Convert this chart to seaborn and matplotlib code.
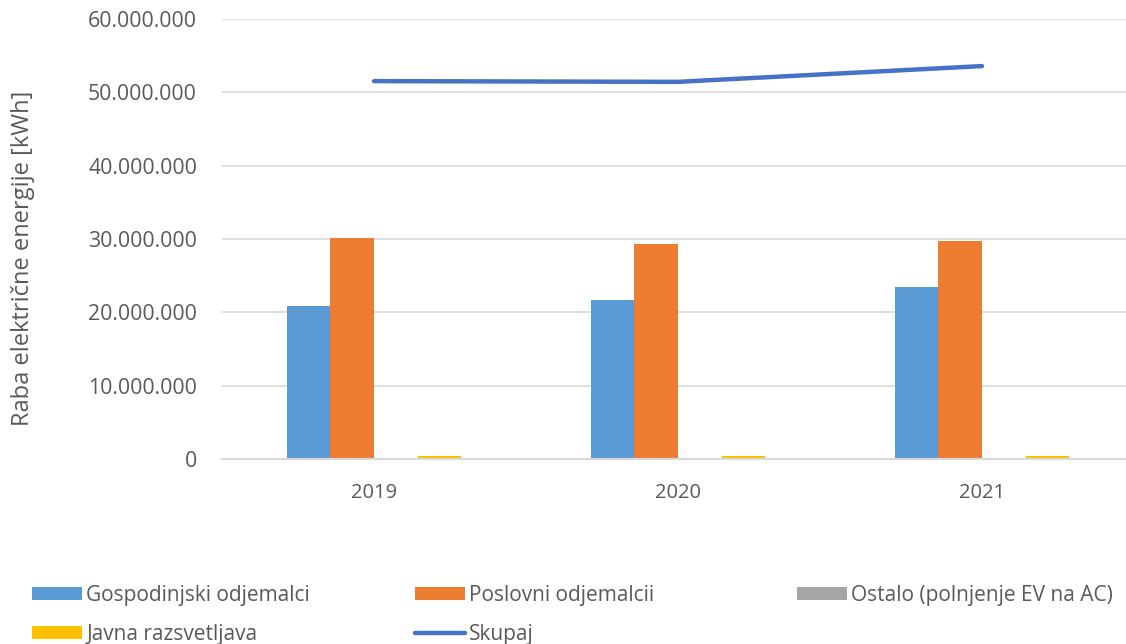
import numpy as np
import pandas as pd
import seaborn as sns
import matplotlib
matplotlib.use("Agg")
import matplotlib.pyplot as plt
from matplotlib.ticker import FuncFormatter, MultipleLocator
from matplotlib.patches import Patch
from matplotlib.lines import Line2D

# Electricity use per consumer group [kWh]
years = ["2019", "2020", "2021"]
gospodinjski = [20_900_000, 21_700_000, 23_400_000]
poslovni = [30_200_000, 29_300_000, 29_750_000]
ostalo = [10_000, 15_000, 30_000]
javna = [420_000, 410_000, 400_000]
skupaj = [51_530_000, 51_430_000, 53_580_000]

series_names = [
    "Gospodinjski odjemalci",
    "Poslovni odjemalcii",
    "Ostalo (polnjenje EV na AC)",
    "Javna razsvetljava",
]
total_name = "Skupaj"
ylabel = "Raba električne energije [kWh]"

colors = ["#5B9BD5", "#ED7D31", "#A5A5A5", "#FFC000"]
line_color = "#4472C4"
text_color = "#595959"
grid_color = "#D9D9D9"

df = pd.DataFrame({
    "Leto": years * 4,
    "Skupina": np.repeat(series_names, len(years)),
    "Vrednost": gospodinjski + poslovni + ostalo + javna,
})

sns.set_theme(style="white")
plt.rcParams["font.family"] = ["Open Sans", "DejaVu Sans"]

W, H = 1126, 644
fig = plt.figure(figsize=(W / 100, H / 100), dpi=100)
ax_left, ax_bottom, ax_top = 222, 459, 19
ax = fig.add_axes([ax_left / W, (H - ax_bottom) / H,
                   (W - ax_left) / W, (ax_bottom - ax_top) / H])

sns.barplot(data=df, x="Leto", y="Vrednost", hue="Skupina",
            hue_order=series_names, palette=colors, width=0.575,
            saturation=1, ax=ax, legend=False, linewidth=0)

sns.lineplot(x=np.arange(len(years)), y=skupaj, ax=ax, color=line_color,
             linewidth=3.2, solid_capstyle="round", legend=False)

ax.set_ylim(0, 60_000_000)
ax.set_xlim(-0.5, 2.5 - 8 / 304)
ax.yaxis.set_major_locator(MultipleLocator(10_000_000))
ax.yaxis.set_major_formatter(FuncFormatter(lambda v, p: f"{int(v):,}".replace(",", ".")))
ax.grid(axis="y", color=grid_color, linewidth=1.2)
ax.set_axisbelow(True)
for s in ["top", "right", "left"]:
    ax.spines[s].set_visible(False)
ax.spines["bottom"].set_color(grid_color)
ax.spines["bottom"].set_linewidth(1.5)

ax.tick_params(axis="both", length=0, colors=text_color)
ax.tick_params(axis="y", pad=18, labelsize=15.3)
ax.tick_params(axis="x", pad=17, labelsize=14.5)
ax.set_xlabel("")
ax.set_ylabel(ylabel, fontsize=17, color=text_color)
ax.yaxis.set_label_coords(-(ax_left - 35) / (W - ax_left), 0.455)

# Legend: three equally spaced columns beneath the plot
handles = [Patch(facecolor=c, edgecolor="none") for c in colors]
line_handle = Line2D([0], [0], color=line_color, linewidth=3.2, solid_capstyle="round")
columns = [
    ([handles[0], handles[3]], [series_names[0], series_names[3]], 32),
    ([handles[1], line_handle], [series_names[1], total_name], 415),
    ([handles[2]], [series_names[2]], 797),
]
for hs, labels, xpix in columns:
    leg = fig.legend(hs, labels, loc="upper left",
                     bbox_to_anchor=(xpix / W, (H - 585) / H),
                     frameon=False, fontsize=15, labelcolor=text_color,
                     handlelength=2.4, handleheight=0.6, handletextpad=0.2,
                     labelspacing=0.85, borderpad=0, borderaxespad=0)

fig.savefig("out.png", dpi=100)
